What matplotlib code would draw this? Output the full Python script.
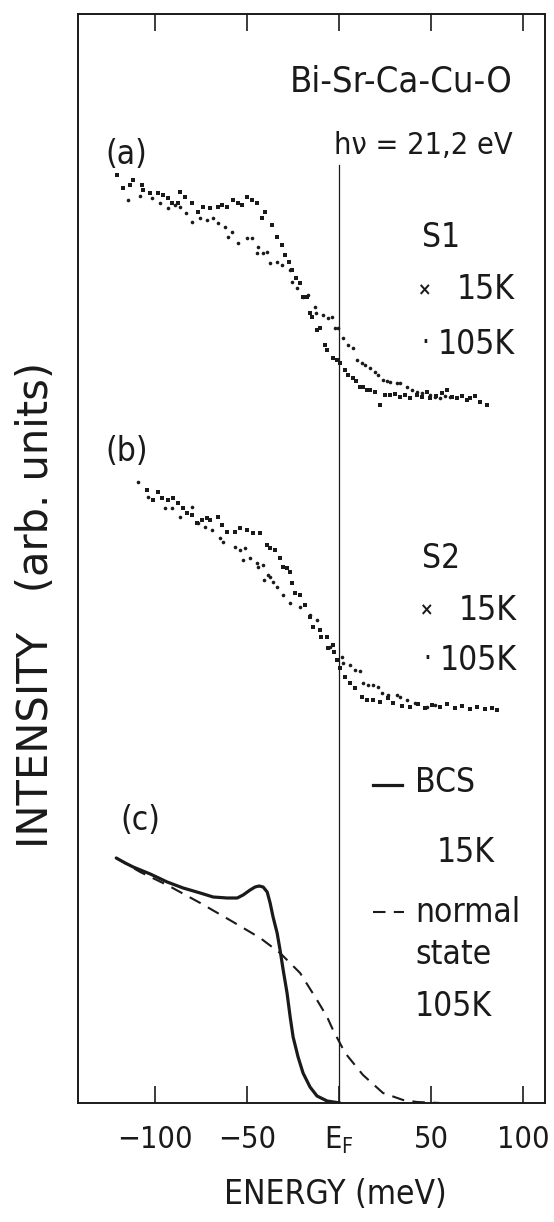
import matplotlib
matplotlib.use("Agg")
import matplotlib.pyplot as plt
import matplotlib.font_manager as fm
from matplotlib.lines import Line2D

# ---------------- data ----------------
# panel (a), sample S1
a15_E = [-120.7, -117.4, -113.6, -112.0, -107.1, -106.5, -102.7, -98.4, -95.7, -92.9, -90.8, -87.5,
         -86.4, -83.7, -79.9, -76.6, -73.9, -70.1, -65.8, -63.6, -60.9, -57.6, -54.9, -52.7, -50.0,
         -47.3, -44.6, -41.8, -40.2, -36.4, -33.7, -31.0, -29.3, -27.2, -25.5, -23.4, -21.2, -19.6,
         -17.4, -15.8, -14.7, -12.0, -10.3, -7.6, -6.5, -3.3, -1.1, 0.5, 3.3, 4.9, 7.6, 9.2, 11.4,
         13.0, 15.2, 16.8, 19.6, 22.3, 25.0, 27.7, 30.4, 33.2, 35.9, 38.6, 42.4, 45.1, 47.8, 49.5,
         52.7, 56.0, 58.7, 61.4, 64.1, 66.8, 69.6, 71.2, 73.9, 76.6, 80.4]
a15_I = [9.28, 9.15, 9.18, 9.23, 9.18, 9.13, 9.10, 9.10, 9.08, 9.05, 9.00, 9.00,
         9.11, 9.06, 9.00, 8.91, 8.96, 8.95, 8.96, 8.98, 8.96, 9.03, 9.00, 8.98, 9.06,
         9.03, 9.00, 8.85, 8.91, 8.78, 8.66, 8.58, 8.48, 8.41, 8.33, 8.25, 8.20, 8.06,
         8.06, 7.90, 7.86, 7.73, 7.75, 7.58, 7.53, 7.45, 7.43, 7.40, 7.33, 7.28, 7.25, 7.22, 7.16,
         7.16, 7.13, 7.13, 7.11, 6.98, 7.08, 7.08, 7.09, 7.06, 7.08, 7.05, 7.08, 7.06, 7.11, 7.05,
         7.07, 7.10, 7.13, 7.06, 7.05, 7.07, 7.03, 7.05, 7.07, 7.01, 6.98]
a105_E = [-114.7, -108.2, -101.6, -97.3, -92.9, -89.1, -86.4, -83.2, -79.9, -75.5, -71.7, -68.5,
          -65.8, -62.0, -60.3, -58.2, -54.9, -50.0, -47.3, -44.6, -44.0, -41.3, -39.1, -37.5,
          -33.7, -31.0, -26.6, -25.5, -22.8, -19.6, -16.8, -13.0, -12.5, -8.7, -6.0, -3.8, -2.2,
          -0.5, 2.2, 4.9, 7.6, 9.8, 12.5, 14.1, 16.8, 19.6, 21.2, 23.9, 26.1, 27.7, 31.5, 33.2,
          37.0, 39.7, 42.4, 45.1, 49.5, 52.2, 54.9, 57.6, 60.3]
a105_I = [9.03, 9.07, 9.05, 9.00, 8.95, 8.98, 8.96, 8.90, 8.81, 8.85, 8.83, 8.85,
          8.80, 8.76, 8.66, 8.71, 8.60, 8.65, 8.65, 8.50, 8.56, 8.50, 8.51, 8.40,
          8.41, 8.38, 8.33, 8.21, 8.15, 8.06, 8.08, 7.96, 7.90, 7.88, 7.85, 7.86, 7.75,
          7.75, 7.65, 7.58, 7.55, 7.43, 7.40, 7.38, 7.35, 7.31, 7.28, 7.23, 7.22, 7.21, 7.20, 7.20,
          7.16, 7.13, 7.11, 7.10, 7.08, 7.06, 7.05, 7.07, 7.06]

# panel (b), sample S2
b15_E = [-104.3, -101.1, -98.4, -96.2, -92.9, -90.2, -87.5, -84.8, -82.6, -79.9, -77.2, -74.5,
         -71.7, -70.1, -65.8, -63.6, -60.9, -56.5, -53.8, -50.0, -46.7, -42.9, -39.1, -37.5,
         -34.8, -32.1, -30.4, -28.3, -26.6, -25.5, -23.9, -21.2, -18.5, -15.8, -14.1, -10.3,
         -10.0, -6.5, -6.2, -3.3, -3.0, -1.1, 0.5, 3.3, 6.0, 8.7, 12.5, 15.2, 18.5, 22.3, 26.6,
         29.3, 34.2, 38.6, 42.9, 46.7, 50.5, 54.9, 58.7, 63.0, 66.8, 71.2, 75.0, 79.3, 83.2, 85.9]
b15_I = [6.13, 6.03, 6.11, 6.05, 6.03, 6.05, 6.00, 5.95, 5.90, 5.88, 5.80, 5.83,
         5.85, 5.83, 5.86, 5.78, 5.71, 5.71, 5.75, 5.73, 5.70, 5.70, 5.58, 5.55,
         5.53, 5.45, 5.36, 5.35, 5.31, 5.20, 5.10, 5.08, 4.98, 4.86, 4.76, 4.73,
         4.66, 4.66, 4.55, 4.58, 4.51, 4.43, 4.35, 4.26, 4.20, 4.15, 4.06, 4.03, 4.03, 4.01, 4.05,
         4.00, 3.97, 3.96, 3.99, 3.95, 3.98, 3.96, 3.99, 3.95, 3.97, 3.94, 3.96, 3.94, 3.95, 3.93]
b105_E = [-109.2, -103.8, -94.6, -90.8, -86.4, -79.9, -76.6, -72.8, -69.0, -64.7, -63.0, -56.5,
          -53.8, -52.2, -51.1, -48.4, -44.6, -44.0, -41.3, -41.0, -38.6, -37.5, -35.9, -33.7,
          -30.4, -26.6, -21.2, -15.8, -12.0, -4.9, 1.6, 2.2, 6.0, 8.7, 11.4, 13.0, 15.8, 18.5,
          21.2, 23.4, 26.6, 31.5, 33.2, 37.0, 41.3, 47.8, 52.2]
b105_I = [6.21, 6.06, 5.95, 5.95, 5.86, 5.96, 5.80, 5.76, 5.73, 5.65, 5.61, 5.56,
          5.53, 5.43, 5.55, 5.45, 5.40, 5.36, 5.38, 5.23, 5.28, 5.26, 5.21, 5.16,
          5.08, 5.00, 4.96, 4.88, 4.83, 4.56, 4.46, 4.40, 4.38, 4.33, 4.32, 4.20, 4.18, 4.18,
          4.16, 4.10, 4.08, 4.08, 4.06, 4.03, 4.00, 3.96, 3.98]

# panel (c), model curves
bcs_E = [-121.2, -116.3, -112.0, -102.7, -93.5, -84.8, -75.5, -68.5, -60.9, -55.4, -52.2, -48.4,
         -45.7, -43.5, -41.3, -39.1, -37.5, -35.9, -33.7, -32.1, -30.4, -28.3, -26.6, -25.0,
         -22.3, -19.6, -15.8, -12.0, -6.5, 0.5]
bcs_I = [2.45, 2.40, 2.36, 2.29, 2.21, 2.15, 2.10, 2.06, 2.05, 2.05, 2.08, 2.13,
         2.16, 2.17, 2.16, 2.11, 2.00, 1.86, 1.70, 1.53, 1.33, 1.10, 0.86, 0.66,
         0.46, 0.30, 0.16, 0.07, 0.02, 0.0]
norm_E = [-121.2, -108.2, -93.5, -75.5, -57.6, -42.9, -32.1, -21.2, -12.0, -6.5, -3.3, 3.3, 13.0,
          23.9, 34.8, 42.4, 54.9]
norm_I = [2.45, 2.31, 2.18, 2.00, 1.81, 1.65, 1.50, 1.30, 1.03, 0.86, 0.73, 0.50, 0.28,
          0.10, 0.03, 0.01, 0.0]

x_ticks = [-100, -50, 0, 50, 100]
x_ticklabels = ["\u2212100", "\u221250", "E$_\\mathrm{F}$", "50", "100"]
fermi_top = 9.38

# ---------------- font ----------------
entries = [(f.name, f.stretch) for f in fm.fontManager.ttflist]
if any(n == "DejaVu Sans" and s == "condensed" for n, s in entries):
    FAM, STRETCH = "DejaVu Sans", "condensed"
elif any(n == "Liberation Sans Narrow" for n, s in entries):
    FAM, STRETCH = "Liberation Sans Narrow", "normal"
else:
    FAM, STRETCH = "DejaVu Sans", "normal"

plt.rcParams["font.family"] = [FAM, "DejaVu Sans"]
plt.rcParams["font.stretch"] = STRETCH
plt.rcParams["mathtext.fontset"] = "custom"
plt.rcParams["mathtext.rm"] = FAM
plt.rcParams["mathtext.it"] = FAM

W, H = 554, 1222
fig = plt.figure(figsize=(W / 100, H / 100), dpi=100)
ax = fig.add_axes([78 / W, 1 - 1103 / H, (545 - 78) / W, (1103 - 14) / H])


def fp(px, py):
    return px / W, 1 - py / H


INK = "#1a1a1a"
ax.set_xlim(-142, 112)
ax.set_ylim(0, 10.89)

ax.plot(a15_E, a15_I, ls="none", marker="s", ms=3.5, color=INK, mew=0)
ax.plot(a105_E, a105_I, ls="none", marker="o", ms=2.6, color=INK, mew=0)
ax.plot(b15_E, b15_I, ls="none", marker="s", ms=3.5, color=INK, mew=0)
ax.plot(b105_E, b105_I, ls="none", marker="o", ms=2.6, color=INK, mew=0)
ax.plot(bcs_E, bcs_I, color=INK, lw=2.3, solid_capstyle="round", solid_joinstyle="round")
ax.plot(norm_E, norm_I, color=INK, lw=1.5, ls=(0, (6, 4)))
ax.plot([0, 0], [0, fermi_top], color=INK, lw=0.9)

for s in ax.spines.values():
    s.set_linewidth(1.4)
    s.set_color(INK)
ax.set_xticks(x_ticks)
ax.set_xticklabels(x_ticklabels)
ax.tick_params(axis="x", direction="in", length=12, width=1.2, top=True, bottom=True,
               labeltop=False, labelsize=22, pad=16, colors=INK)
ax.set_yticks([])

FS = 24
tk = dict(color=INK, fontsize=FS)
xk = dict(ha="center", va="center", color=INK, fontsize=13, fontweight="bold")
dk = dict(ha="center", va="center", color=INK, fontsize=20)
fig.text(*fp(513, 82), "Bi-Sr-Ca-Cu-O", ha="right", va="center", color=INK, fontsize=26)
fig.text(*fp(513, 145), "h\u03bd = 21,2 eV", ha="right", va="center", color=INK, fontsize=22)
fig.text(*fp(105, 155), "(a)", ha="left", va="center", **tk)
fig.text(*fp(422, 237), "S1", ha="left", va="center", **tk)
fig.text(*fp(425, 290), "\u00d7", **xk)
fig.text(*fp(515, 290), "15K", ha="right", va="center", **tk)
fig.text(*fp(425, 343), "\u00b7", **dk)
fig.text(*fp(515, 345), "105K", ha="right", va="center", **tk)

fig.text(*fp(105, 452), "(b)", ha="left", va="center", **tk)
fig.text(*fp(422, 559), "S2", ha="left", va="center", **tk)
fig.text(*fp(427, 610), "\u00d7", **xk)
fig.text(*fp(517, 610), "15K", ha="right", va="center", **tk)
fig.text(*fp(427, 659), "\u00b7", **dk)
fig.text(*fp(517, 661), "105K", ha="right", va="center", **tk)

fig.text(*fp(120, 820), "(c)", ha="left", va="center", **tk)
fig.add_artist(Line2D([373 / W, 402 / W], [1 - 785 / H, 1 - 785 / H], color=INK, lw=2.3))
fig.text(*fp(415, 783), "BCS", ha="left", va="center", **tk)
fig.text(*fp(437, 852), "15K", ha="left", va="center", **tk)
fig.add_artist(Line2D([373 / W, 404 / W], [1 - 912 / H, 1 - 912 / H], color=INK, lw=1.5,
                      ls=(0, (6, 4))))
fig.text(*fp(415, 912), "normal", ha="left", va="center", **tk)
fig.text(*fp(415, 955), "state", ha="left", va="center", **tk)
fig.text(*fp(415, 1007), "105K", ha="left", va="center", **tk)

fig.text(*fp(335, 1195), "ENERGY (meV)", ha="center", va="center", **tk)
fig.text(*fp(36, 605), "INTENSITY   (arb. units)", ha="center", va="center", rotation=90,
         color=INK, fontsize=30, fontstretch="normal")

fig.savefig("out.png", dpi=100, facecolor="white")
